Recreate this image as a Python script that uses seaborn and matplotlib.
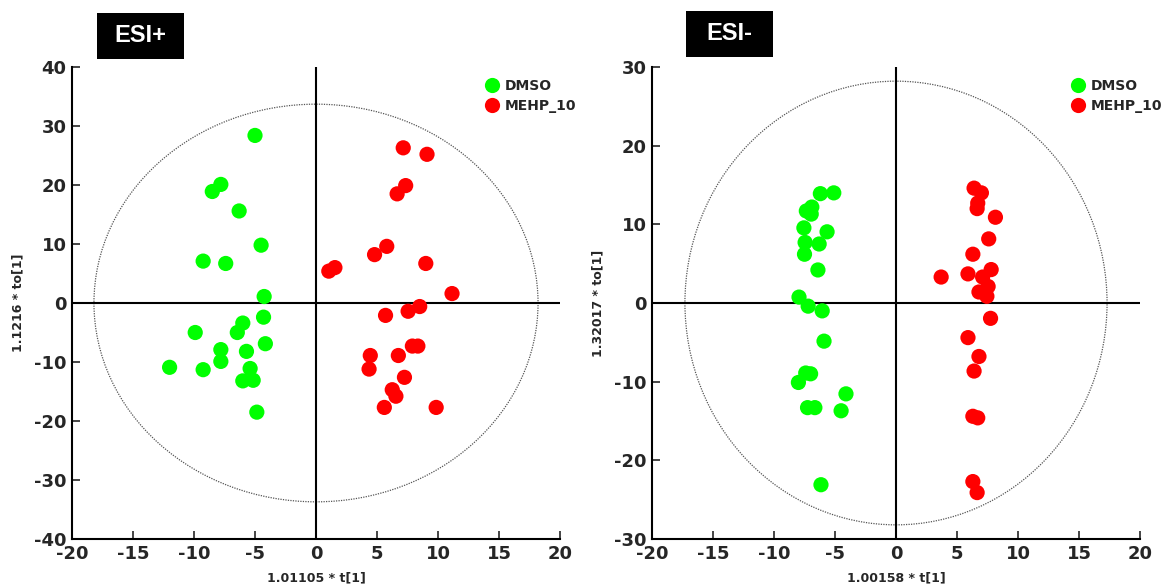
# ==========================
# plot.py - OPLS-DA score plots (ESI+ / ESI-)
# ==========================

import matplotlib
matplotlib.use("Agg")
import matplotlib.pyplot as plt
from matplotlib.patches import Ellipse, Rectangle
import pandas as pd
import seaborn as sns

# ==========================
# 1. Datos
# ==========================
grupos = ["DMSO", "MEHP_10"]
colores = ["#00ff00", "#ff0000"]

esi_pos_dmso_x = [-5.0, -7.8, -8.5, -6.3, -4.5, -9.25, -7.4, -4.25, -4.3, -6.0, -6.45,
                  -9.9, -4.15, -7.8, -5.7, -7.8, -12.0, -9.25, -5.4, -6.0, -5.15, -4.85]
esi_pos_dmso_y = [28.4, 20.1, 18.9, 15.6, 9.8, 7.1, 6.7, 1.1, -2.4, -3.4, -5.0,
                  -5.0, -6.9, -7.9, -8.2, -9.9, -10.9, -11.3, -11.1, -13.2, -13.1, -18.5]
esi_pos_mehp_x = [7.15, 9.1, 7.35, 6.65, 5.8, 4.8, 9.0, 1.55, 1.05, 11.15, 8.5, 7.55,
                  5.7, 7.9, 8.35, 4.45, 6.75, 4.35, 7.25, 6.25, 6.55, 5.6, 9.85]
esi_pos_mehp_y = [26.3, 25.2, 19.9, 18.5, 9.6, 8.2, 6.7, 6.0, 5.4, 1.6, -0.6, -1.4,
                  -2.1, -7.3, -7.3, -8.9, -8.9, -11.2, -12.6, -14.7, -15.8, -17.7, -17.7]

esi_neg_dmso_x = [-6.2, -5.1, -6.9, -7.35, -6.95, -7.55, -5.65, -7.45, -6.3, -7.5, -6.4, -7.95,
                  -7.2, -6.05, -5.9, -7.4, -7.0, -8.0, -4.1, -7.25, -6.65, -4.5, -6.15]
esi_neg_dmso_y = [13.9, 14.0, 12.2, 11.7, 11.3, 9.55, 9.05, 7.7, 7.5, 6.2, 4.2, 0.75,
                  -0.4, -1.0, -4.85, -8.9, -9.0, -10.1, -11.55, -13.3, -13.3, -13.7, -23.1]
esi_neg_mehp_x = [6.4, 7.0, 6.7, 6.65, 8.15, 7.6, 6.3, 7.8, 3.7, 5.9, 7.1, 7.55, 6.8,
                  7.45, 7.75, 5.9, 6.8, 6.4, 6.3, 6.7, 6.3, 6.65]
esi_neg_mehp_y = [14.6, 14.0, 12.7, 12.0, 10.9, 8.15, 6.2, 4.25, 3.3, 3.7, 3.3, 2.1, 1.4,
                  0.85, -1.95, -4.4, -6.8, -8.65, -14.4, -14.6, -22.7, -24.1]

# Elipse de Hotelling (semiejes x, y)
elipse_pos = (18.2, 33.7)
elipse_neg = (17.3, 28.2)

# ==========================
# 2. Estilo
# ==========================
sns.set_style("ticks")
plt.rcParams["font.family"] = ["DejaVu Sans"]
plt.rcParams["axes.unicode_minus"] = False


def armar_df(dx, dy, mx, my):
    return pd.DataFrame({
        "t1": dx + mx,
        "to1": dy + my,
        "grupo": [grupos[0]] * len(dx) + [grupos[1]] * len(mx),
    })


def dibujar(ax, df, lim_y, paso_y, elipse, xlabel, ylabel, x_leyenda):
    ax.add_patch(Ellipse((0, 0), 2 * elipse[0], 2 * elipse[1], fill=False,
                         edgecolor="#555555", lw=0.9, linestyle=(0, (1, 1)), zorder=1))
    ax.axvline(0, color="black", lw=1.5, zorder=2)
    ax.axhline(0, color="black", lw=1.5, zorder=2)
    sns.scatterplot(data=df, x="t1", y="to1", hue="grupo", hue_order=grupos,
                    palette=colores, s=120, linewidth=0, alpha=1, ax=ax, zorder=3)
    ax.set_xlim(-20, 20)
    ax.set_ylim(-lim_y, lim_y)
    ax.set_xticks(range(-20, 21, 5))
    ax.set_yticks(range(-lim_y, lim_y + 1, paso_y))
    ax.tick_params(direction="in", length=6, width=1.2, labelsize=13, pad=4)
    for lab in ax.get_xticklabels() + ax.get_yticklabels():
        lab.set_fontweight("bold")
    sns.despine(ax=ax)
    for sp in ["left", "bottom"]:
        ax.spines[sp].set_linewidth(1.5)
        ax.spines[sp].set_color("black")
    ax.set_xlabel("")
    ax.set_ylabel("")
    ax.text(0.5, -0.083, xlabel, transform=ax.transAxes, ha="center", va="center",
            fontsize=9, fontweight="bold")
    ax.text(-0.111, 0.5, ylabel, transform=ax.transAxes, ha="center", va="center",
            rotation=90, fontsize=9, fontweight="bold")
    sns.move_legend(ax, "upper left", bbox_to_anchor=(x_leyenda, 0.99), frameon=False,
                    title=None, borderpad=0, handlelength=1, handletextpad=0.4,
                    labelspacing=0.45, prop={"weight": "bold", "size": 10},
                    markerscale=1.0)


# ==========================
# 3. Figura
# ==========================
fig = plt.figure(figsize=(11.67, 5.86), dpi=100)
ax1 = fig.add_axes([72 / 1167, 1 - 539 / 586, 488 / 1167, 472 / 586])
ax2 = fig.add_axes([652 / 1167, 1 - 539 / 586, 488 / 1167, 472 / 586])

dibujar(ax1, armar_df(esi_pos_dmso_x, esi_pos_dmso_y, esi_pos_mehp_x, esi_pos_mehp_y),
        40, 10, elipse_pos, "1.01105 * t[1]", "1.1216 * to[1]", 0.833)
dibujar(ax2, armar_df(esi_neg_dmso_x, esi_neg_dmso_y, esi_neg_mehp_x, esi_neg_mehp_y),
        30, 10, elipse_neg, "1.00158 * t[1]", "1.32017 * to[1]", 0.845)

# Etiquetas ESI+ / ESI- en caja negra
for (x0, x1, y0, y1, texto) in [(97, 184, 13, 59, "ESI+"), (686, 773, 11, 57, "ESI-")]:
    fig.add_artist(Rectangle((x0 / 1167, 1 - y1 / 586), (x1 - x0) / 1167, (y1 - y0) / 586,
                             transform=fig.transFigure, facecolor="black", edgecolor="none"))
    fig.text((x0 + x1) / 2 / 1167, 1 - (y0 + y1) / 2 / 586, texto, color="white",
             ha="center", va="center", fontsize=17, fontweight="bold",
             family=["Liberation Sans", "DejaVu Sans"])

# ==========================
# 4. Guardar
# ==========================
fig.savefig("out.png", dpi=100)
print("Figura guardada en out.png")
